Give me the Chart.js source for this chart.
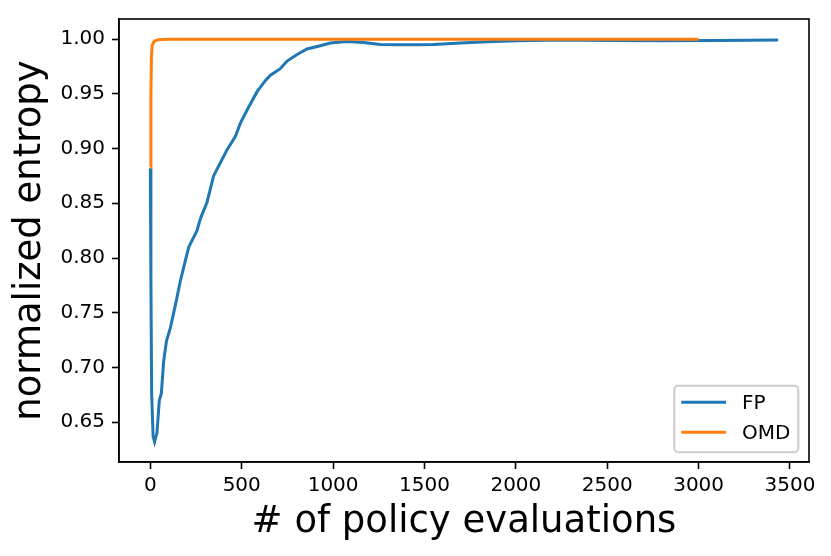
<!DOCTYPE html>
<html>
<head>
<meta charset="utf-8">
<script src="https://cdn.jsdelivr.net/npm/chart.js@4/dist/chart.umd.min.js"></script>
<style>
  html, body { margin: 0; padding: 0; background: #fff; }
  canvas { display: block; }
</style>
</head>
<body>
<canvas id="chart" width="831" height="556"></canvas>
<script>
// FP run: evaluations vs normalized entropy
const fpEvals = [0, 3, 7, 15, 23, 36, 49, 60, 73, 88, 109, 137, 164, 186, 210, 255, 274, 310, 346, 383,
    420, 465, 492, 538, 584, 629, 657, 711, 748, 803, 857, 930, 985, 1058, 1100, 1166, 1258, 1367,
    1450, 1550, 1697, 1843, 2008, 2246, 2500, 2800, 3100, 3435];
const fpEntropy = [0.882, 0.78, 0.676, 0.637, 0.632, 0.640, 0.670, 0.676, 0.706, 0.724, 0.736, 0.757,
    0.779, 0.794, 0.810, 0.825, 0.836, 0.851, 0.875, 0.887, 0.899, 0.911, 0.923, 0.938, 0.952, 0.962,
    0.967, 0.973, 0.980, 0.986, 0.991, 0.994, 0.9964, 0.9976, 0.9977, 0.997, 0.9952, 0.9949, 0.9949,
    0.9952, 0.9964, 0.9976, 0.9985, 0.9991, 0.9987, 0.9986, 0.9988, 0.9992];

// OMD run
const omdEvals = [0, 3, 6, 10, 20, 40, 100, 3000];
const omdEntropy = [0.883, 0.95, 0.985, 0.994, 0.998, 0.9995, 1.0, 1.0];

const xTicks = [0, 500, 1000, 1500, 2000, 2500, 3000, 3500];
const yTicks = [0.65, 0.70, 0.75, 0.80, 0.85, 0.90, 0.95, 1.00];

const seriesNames = ["FP", "OMD"];
const seriesColors = ["#1f77b4", "#ff7f0e"];

const FONT = "'DejaVu Sans', sans-serif";

function toPoints(xs, ys) {
    return xs.map((x, i) => ({ x: x, y: ys[i] }));
}

// frame on all four sides + legend in lower right, like matplotlib
const framePlugin = {
    id: "frame",
    afterDatasetsDraw(chart) {
        const ctx = chart.ctx;
        const a = chart.chartArea;
        ctx.save();
        ctx.strokeStyle = "#000";
        ctx.lineWidth = 1.6;
        ctx.strokeRect(a.left, a.top, a.right - a.left, a.bottom - a.top);

        const w = 124, h = 66.6;
        const bx = a.right - 10.7 - w;
        const by = a.bottom - 9.7 - h;
        ctx.beginPath();
        ctx.roundRect(bx, by, w, h, 4);
        ctx.fillStyle = "rgba(255,255,255,0.8)";
        ctx.fill();
        ctx.strokeStyle = "#cccccc";
        ctx.lineWidth = 2;
        ctx.stroke();

        ctx.font = "20px " + FONT;
        ctx.textBaseline = "middle";
        ctx.textAlign = "left";
        seriesNames.forEach((name, i) => {
            const y = by + 16.6 + i * 30;
            ctx.beginPath();
            ctx.moveTo(bx + 7, y);
            ctx.lineTo(bx + 51.7, y);
            ctx.strokeStyle = seriesColors[i];
            ctx.lineWidth = 3;
            ctx.stroke();
            ctx.fillStyle = "#000";
            ctx.fillText(name, bx + 67.7, y + 1);
        });
        ctx.restore();
    }
};

new Chart(document.getElementById("chart"), {
    type: "line",
    data: {
        datasets: [{
            label: seriesNames[0],
            data: toPoints(fpEvals, fpEntropy),
            borderColor: seriesColors[0],
            borderWidth: 3,
            pointRadius: 0,
            tension: 0,
            order: 1
        }, {
            label: seriesNames[1],
            data: toPoints(omdEvals, omdEntropy),
            borderColor: seriesColors[1],
            borderWidth: 3,
            pointRadius: 0,
            tension: 0,
            order: 0
        }]
    },
    options: {
        responsive: false,
        animation: false,
        devicePixelRatio: 1,
        layout: { padding: { left: 0, top: 15, right: 22, bottom: 0 } },
        plugins: {
            legend: { display: false },
            tooltip: { enabled: false }
        },
        scales: {
            x: {
                type: "linear",
                min: -171.6,
                max: 3604,
                afterFit: s => { s.height = 94; },
                afterBuildTicks: s => { s.ticks = xTicks.map(v => ({ value: v })); },
                grid: { drawOnChartArea: false, drawTicks: true, tickLength: 7, tickWidth: 1.6, tickColor: "#000" },
                border: { display: true, color: "#000", width: 1.6 },
                ticks: {
                    color: "#000",
                    font: { family: FONT, size: 20 },
                    padding: 5,
                    maxRotation: 0,
                    callback: v => String(v)
                },
                title: {
                    display: true,
                    text: "# of policy evaluations",
                    color: "#000",
                    font: { family: FONT, size: 37, lineHeight: 1.2 },
                    padding: { top: 0, bottom: 11 }
                }
            },
            y: {
                type: "linear",
                min: 0.6136,
                max: 1.0184,
                afterFit: s => { s.width = 119; },
                afterBuildTicks: s => { s.ticks = yTicks.map(v => ({ value: v })); },
                grid: { drawOnChartArea: false, drawTicks: true, tickLength: 7, tickWidth: 1.6, tickColor: "#000" },
                border: { display: true, color: "#000", width: 1.6 },
                ticks: {
                    color: "#000",
                    font: { family: FONT, size: 20 },
                    padding: 7,
                    callback: v => v.toFixed(2)
                },
                title: {
                    display: true,
                    text: "normalized entropy",
                    color: "#000",
                    font: { family: FONT, size: 37, lineHeight: 1.2 },
                    padding: { top: 8, bottom: 0 }
                }
            }
        }
    },
    plugins: [framePlugin]
});
</script>
</body>
</html>
